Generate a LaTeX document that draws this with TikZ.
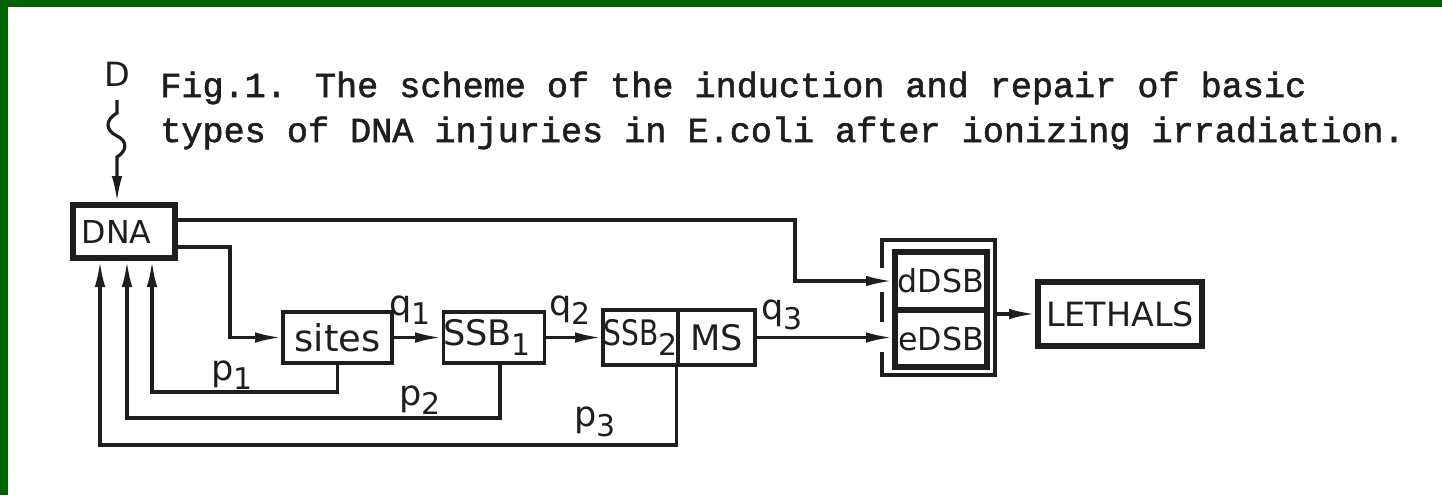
\documentclass[tikz,border=0pt]{standalone}
\usepackage{fontspec}
\setmainfont{DejaVu Sans}
\newfontfamily\capfont[FakeBold=1.6]{Liberation Mono}
\usetikzlibrary{arrows.meta}
\definecolor{bord}{RGB}{0,100,0}
\definecolor{ink}{RGB}{30,30,30}
\newcommand\lsub[1]{\raisebox{-0.5ex}{\fontsize{17}{17}\selectfont #1}}
\newcommand\fs[1]{\fontsize{#1}{#1}\selectfont}
\begin{document}
\begin{tikzpicture}[x=0.2mm,y=-0.2mm,
  line/.style={line width=1.8pt, draw=ink},
  arr/.style={line, -{Latex[length=15pt,width=6pt]}},
  box/.style={draw=ink, line width=1.8pt, inner sep=0pt, text=ink},
  thickbox/.style={box, line width=3pt},
  lbl/.style={inner sep=0pt, text=ink, font=\fs{20}},
  captext/.style={anchor=base west, inner sep=0pt, text=ink, font=\capfont\fs{20}}]
\fill[white] (0,0) rectangle (1442,495);
\fill[bord] (0,0) rectangle (1442,7);
\fill[bord] (0,0) rectangle (8,495);
\useasboundingbox (0,0) rectangle (1442,495);

% caption
\node[captext] (cap1) at (160,97) {Fig.1. The scheme of the induction and repair of basic};
\node[captext] (cap2) at (160,142) {types of DNA injuries in E.coli after ionizing irradiation.};

% boxes
\node[thickbox, minimum width=20.4mm, minimum height=10.6mm, font=\fs{18}] (dna) at (124,231.5) {DNA\hspace*{3mm}};
\node[box, minimum width=21.8mm, minimum height=10.2mm, font=\fs{21}] (sites) at (337.5,337.5) {sites};
\node[box, minimum width=19.6mm, minimum height=10.2mm, font=\fs{20}] (ssb1) at (494,337.5) {SSB\lsub{1}\hspace*{2.8mm}};
\node[box, minimum width=15mm, minimum height=11mm, font=\fs{20}] (ssb2) at (640.5,337.5) {\scalebox{0.8}[1]{SSB}\lsub{2}};
\node[box, minimum width=15.4mm, minimum height=11mm, font=\fs{20}] (ms) at (716.5,337.5) {MS};
\node[thickbox, minimum width=18.4mm, minimum height=11.6mm, font=\fs{18}] (ddsb) at (941,281) {dDSB};
\node[thickbox, minimum width=18.4mm, minimum height=11.4mm, font=\fs{18}] (edsb) at (941,338.5) {eDSB};
\node[minimum width=22.6mm, minimum height=27mm, inner sep=0pt, outer sep=0pt] (dsbgroup) at (938.5,307.5) {};
\draw[line] (dsbgroup.north west |- 0,268) -- (dsbgroup.north west) -- (dsbgroup.north east)
  -- (dsbgroup.south east) -- (dsbgroup.south west) -- (dsbgroup.south west |- 0,352);
\draw[line] (dsbgroup.west |- 0,292) -- (dsbgroup.west |- 0,322);
\node[thickbox, minimum width=32.8mm, minimum height=12.8mm, font=\fs{19}] (lethals) at (1120,314) {LETHALS};

% D input
\node[lbl, font=\fs{19}] (d) at (117,74) {D};
\draw[arr] (d.south |- 0,100) -- (d.south |- 0,113)
  .. controls (105,120) and (105,130) .. (117,136)
  .. controls (128,141) and (127,151) .. (117,157) -- (dna.north -| 117,0);

% forward connectors
\draw[arr] (dna.east |- 0,220) -- (795,220) |- (ddsb.west);
\draw[arr] (dna.east |- 0,247) -- (230,247) |- (sites.west);
\draw[arr] (sites.east) -- (ssb1.west);
\draw[arr] (ssb1.east) -- (ssb2.west);
\draw[arr] (ms.east) -- (ms.east -| edsb.west);
\draw[arr] (dsbgroup.east |- lethals.west) -- (lethals.west);

% feedback
\draw[arr] (sites.south) |- (152,392) -- (dna.south -| 152,0);
\draw[arr] (ssb1.south -| 500,0) |- (127,418) -- (dna.south -| 127,0);
\draw[arr] (ms.south west) |- (100,445) -- (dna.south -| 100,0);

% labels
\node[lbl] (q1) at (410,310) {q\lsub{1}};
\node[lbl] (q2) at (570,310) {q\lsub{2}};
\node[lbl] (q3) at (782,315) {q\lsub{3}};
\node[lbl] (p1) at (232,375) {p\lsub{1}};
\node[lbl] (p2) at (420,400) {p\lsub{2}};
\node[lbl] (p3) at (595,422) {p\lsub{3}};
\end{tikzpicture}
\end{document}
